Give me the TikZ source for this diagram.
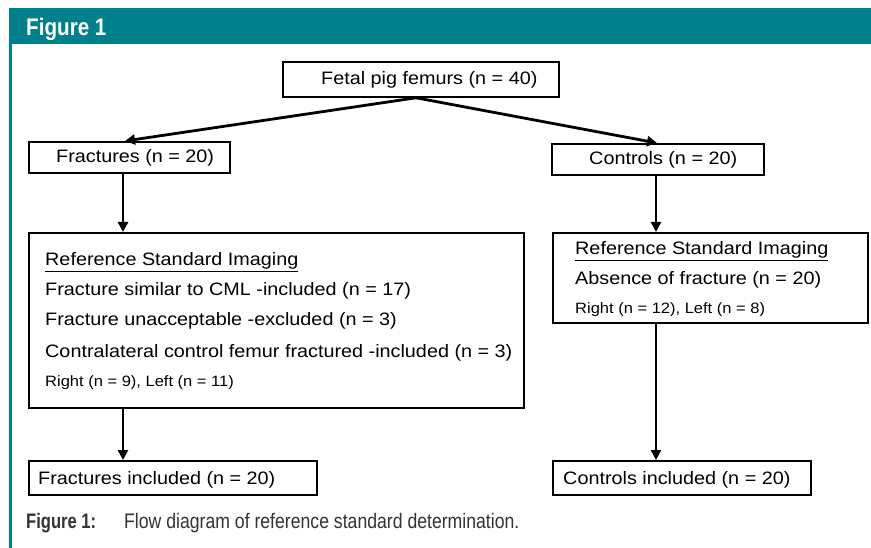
\documentclass[tikz,border=0pt]{standalone}
\usepackage{fontspec}
\setmainfont[FakeStretch=1.1]{Liberation Sans}
\newfontfamily\condfont[FakeStretch=0.86]{Liberation Sans}
\newfontfamily\capbold[FakeStretch=0.79]{Liberation Sans}
\newfontfamily\capreg[FakeStretch=0.84]{Liberation Sans}
\usetikzlibrary{arrows.meta}
\definecolor{teal}{HTML}{00808A}
\definecolor{captxt}{HTML}{333333}
\tikzset{
  box/.style={draw=black, line width=1.8pt, inner sep=0pt, anchor=north west},
  txt/.style={anchor=base west, inner sep=0pt, font=\fontsize{18}{20}\selectfont},
  small/.style={anchor=base west, inner sep=0pt, font=\fontsize{15}{17}\selectfont},
  arr/.style={line width=2.8pt, -{Triangle[length=10pt,width=10pt]}},
}
\begin{document}
\begin{tikzpicture}[x=1pt,y=-1pt]
\useasboundingbox (0,0) rectangle (871,548);
% frame
\fill[teal] (9,8) rectangle (871,44);
\fill[teal] (9,44) rectangle (12,548);
\node[anchor=base west, inner sep=0pt, text=white, font=\condfont\bfseries\fontsize{24}{26}\selectfont] (fig) at (26,36) {Figure 1};
% boxes
\node[box, minimum width=276pt, minimum height=35pt] (top) at (282,61) {};
\node[box, minimum width=201pt, minimum height=31pt] (frac) at (28,141) {};
\node[box, minimum width=212pt, minimum height=31pt] (ctrl) at (551,143) {};
\node[box, minimum width=495pt, minimum height=175pt] (lbig) at (28,232) {};
\node[box, minimum width=315pt, minimum height=90pt] (rbig) at (552,232) {};
\node[box, minimum width=288pt, minimum height=34pt] (finc) at (28,460) {};
\node[box, minimum width=258pt, minimum height=34pt] (cinc) at (552,460) {};
% texts
\node[txt] (ttop) at (321,85) {Fetal pig femurs (n = 40)};
\node[txt] (tfrac) at (56,163) {Fractures (n = 20)};
\node[txt] (tctrl) at (589,165) {Controls (n = 20)};
\node[txt] (l1) at (45,266) {\underline{Reference Standard Imaging}};
\node[txt] (l2) at (45,296) {Fracture similar to CML -included (n = 17)};
\node[txt] (l3) at (45,326) {Fracture unacceptable -excluded (n = 3)};
\node[txt] (l4) at (45,357) {Contralateral control femur fractured -included (n = 3)};
\node[small] (l5) at (45,386) {Right (n = 9), Left (n = 11)};
\node[txt] (r1) at (575,255) {\underline{Reference Standard Imaging}};
\node[txt] (r2) at (575,285) {Absence of fracture (n = 20)};
\node[small] (r3) at (575,314) {Right (n = 12), Left (n = 8)};
\node[txt] (tfinc) at (38,484) {Fractures included (n = 20)};
\node[txt] (tcinc) at (563,484) {Controls included (n = 20)};
% caption
\node[anchor=base west, inner sep=0pt, text=captxt, font=\capbold\bfseries\fontsize{21}{23}\selectfont] (cap1) at (26,528) {Figure 1:};
\node[anchor=base west, inner sep=0pt, text=captxt, font=\capreg\fontsize{21}{23}\selectfont] (cap2) at (124,528) {Flow diagram of reference standard determination.};
% connectors
\draw[arr] (top.south -| 416,0) -- (frac.north -| 125,0);
\draw[arr] (top.south -| 416,0) -- (ctrl.north -| 657,0);
\draw[arr] (frac.south -| 123,0) -- (lbig.north -| 123,0);
\draw[arr] (ctrl.south -| 656,0) -- (rbig.north -| 656,0);
\draw[arr] (lbig.south -| 123,0) -- (finc.north -| 123,0);
\draw[arr] (rbig.south -| 656,0) -- (cinc.north -| 656,0);
\end{tikzpicture}
\end{document}
